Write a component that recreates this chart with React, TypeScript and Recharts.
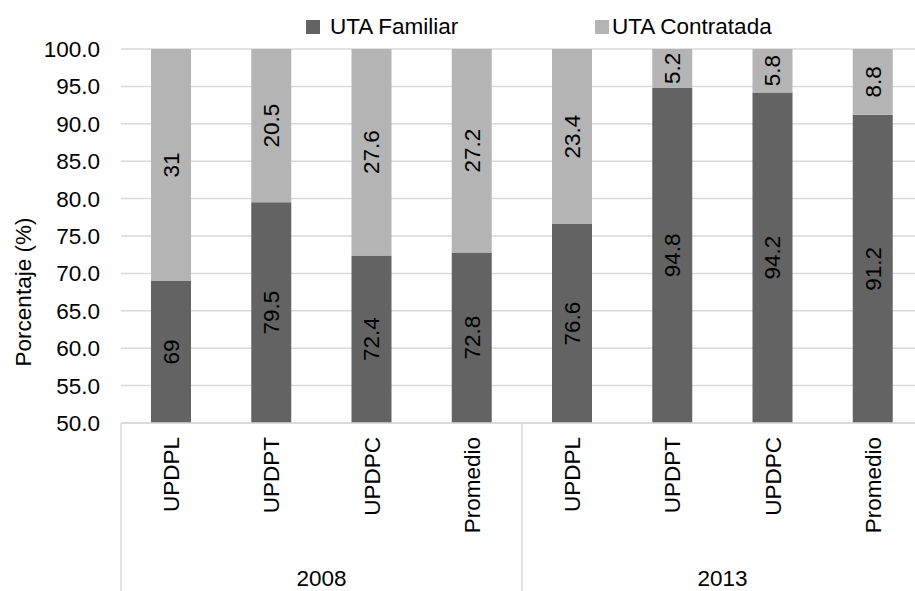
import React from 'react';
import { Bar, BarChart, CartesianGrid, LabelList, Legend, XAxis, YAxis } from 'recharts';

const categories = ['UPDPL', 'UPDPT', 'UPDPC', 'Promedio', 'UPDPL', 'UPDPT', 'UPDPC', 'Promedio'];
const years = ['2008', '2008', '2008', '2008', '2013', '2013', '2013', '2013'];
const familiar = [69, 79.5, 72.4, 72.8, 76.6, 94.8, 94.2, 91.2];
const contratada = [31, 20.5, 27.6, 27.2, 23.4, 5.2, 5.8, 8.8];
const yTicks = [50, 55, 60, 65, 70, 75, 80, 85, 90, 95, 100];
const seriesOrder = ['UTA Familiar', 'UTA Contratada'];

const data = categories.map((c, i) => ({
  id: `${years[i]}-${c}`,
  familiar: familiar[i],
  contratada: contratada[i],
}));

const W = 923;
const H = 591;
const Y_AXIS_W = 121;
const LEGEND_H = 49;
const X_AXIS_H = 168;
const PLOT_TOP = LEGEND_H;
const PLOT_BOTTOM = H - X_AXIS_H;
const BAND = (W - Y_AXIS_W) / categories.length;
const FONT = 22.5;
const GRID = '#d9d9d9';
const DARK = '#636363';
const LIGHT = '#b4b4b4';

function SegmentLabel(props: any) {
  const { x, y, width, height, value } = props;
  const top = Math.max(y, PLOT_TOP);
  const bottom = Math.min(y + height, PLOT_BOTTOM);
  const cx = x + width / 2;
  const cy = (top + bottom) / 2;
  return (
    <text
      transform={`translate(${cx},${cy}) rotate(-90)`}
      textAnchor="middle"
      dy="0.35em"
      fontSize={FONT}
      fill="#000"
    >
      {value}
    </text>
  );
}

function CategoryTick(props: any) {
  const { x, y, payload } = props;
  const i = payload.index;
  const left = x - BAND / 2;
  return (
    <g>
      <text
        transform={`translate(${x},${y}) rotate(-90)`}
        textAnchor="end"
        dy="0.35em"
        fontSize={FONT}
        fill="#000"
      >
        {categories[i]}
      </text>
      {i % 4 === 0 && (
        <>
          <line x1={left} x2={left} y1={PLOT_BOTTOM} y2={H} stroke={GRID} strokeWidth={1.5} />
          <text x={left + 2 * BAND} y={y + 141} textAnchor="middle" dy="0.35em" fontSize={FONT} fill="#000">
            {years[i]}
          </text>
        </>
      )}
      {i === categories.length - 1 && (
        <line x1={x + BAND / 2} x2={x + BAND / 2} y1={PLOT_BOTTOM} y2={H} stroke={GRID} strokeWidth={1.5} />
      )}
    </g>
  );
}

const legendPos = [
  { left: 306, gap: 10 },
  { left: 595, gap: 3 },
];

function ChartLegend(props: any) {
  const items = [...(props.payload || [])].sort(
    (a: any, b: any) => seriesOrder.indexOf(a.value) - seriesOrder.indexOf(b.value),
  );
  return (
    <div style={{ position: 'relative', height: LEGEND_H, width: W }}>
      {items.map((item: any, i: number) => (
        <div
          key={item.value}
          style={{
            position: 'absolute',
            left: legendPos[i].left,
            top: 16,
            display: 'flex',
            alignItems: 'center',
            fontSize: FONT,
            lineHeight: `${FONT}px`,
            color: '#000',
            whiteSpace: 'nowrap',
          }}
        >
          <span style={{ width: 14, height: 14, background: item.color, marginRight: legendPos[i].gap }} />
          {item.value}
        </div>
      ))}
    </div>
  );
}

function YTitle() {
  return (
    <text transform="translate(23,292) rotate(-90)" textAnchor="middle" dy="0.35em" fontSize={FONT} fill="#000">
      Porcentaje (%)
    </text>
  );
}

export default function App() {
  return (
    <div
      style={{
        position: 'absolute',
        left: 0,
        top: 0,
        width: 915,
        height: H,
        overflow: 'hidden',
        background: '#fff',
        fontFamily: '"Liberation Sans", Arial, sans-serif',
      }}
    >
      <BarChart width={W} height={H} data={data} margin={{ top: 0, right: 0, bottom: 0, left: 0 }} barSize={40}>
        <CartesianGrid vertical={false} stroke={GRID} strokeWidth={1.5} />
        <Legend verticalAlign="top" content={<ChartLegend />} />
        <XAxis
          dataKey="id"
          height={X_AXIS_H}
          interval={0}
          tickLine={false}
          tickSize={0}
          tickMargin={14}
          axisLine={{ stroke: GRID, strokeWidth: 1.5 }}
          tick={<CategoryTick />}
        />
        <YAxis
          width={Y_AXIS_W}
          domain={[50, 100]}
          ticks={yTicks}
          allowDataOverflow
          axisLine={false}
          tickLine={false}
          tickSize={0}
          tickMargin={21}
          tickFormatter={(v: number) => v.toFixed(1)}
          tick={{ fontSize: FONT, fill: '#000' }}
          label={<YTitle />}
        />
        <Bar dataKey="familiar" name="UTA Familiar" stackId="a" fill={DARK} isAnimationActive={false}>
          <LabelList dataKey="familiar" content={<SegmentLabel />} />
        </Bar>
        <Bar dataKey="contratada" name="UTA Contratada" stackId="a" fill={LIGHT} isAnimationActive={false}>
          <LabelList dataKey="contratada" content={<SegmentLabel />} />
        </Bar>
      </BarChart>
    </div>
  );
}
